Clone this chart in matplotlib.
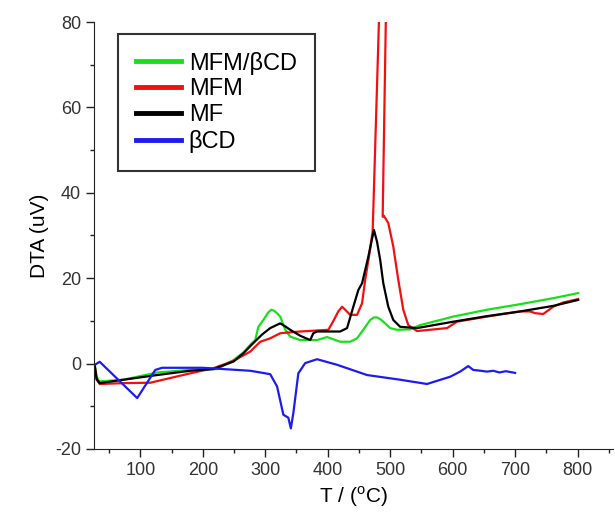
import numpy as np
import matplotlib
matplotlib.use("Agg")
import matplotlib.pyplot as plt
from matplotlib.ticker import MultipleLocator

plt.rcParams["font.family"] = ["Liberation Sans", "DejaVu Sans"]
plt.rcParams["mathtext.fontset"] = "custom"
plt.rcParams["mathtext.rm"] = "Liberation Sans"
plt.rcParams["axes.unicode_minus"] = False

# data (T in degC, DTA in uV)
green_T = [27, 30, 34, 73, 127, 180, 223, 249, 265, 276, 284, 289, 297, 305,
           310, 315, 320, 324, 332, 340, 356, 383, 399, 420, 436, 447, 457,
           468, 474, 479, 484, 489, 500, 511, 532, 548, 580, 601, 655, 708,
           761, 801]
green_y = [-0.3, -3.0, -4.2, -3.8, -2.1, -1.5, -1.3, 0.8, 2.6, 4.4, 5.5, 8.6,
           10.2, 12.0, 12.6, 12.3, 11.6, 11.0, 7.9, 6.3, 5.5, 5.5, 6.2, 5.1,
           5.1, 5.9, 7.9, 10.2, 10.8, 10.8, 10.4, 9.8, 8.3, 7.9, 8.0, 9.0,
           10.2, 11.0, 12.6, 13.9, 15.3, 16.5]

red_T = [27, 30, 35, 73, 116, 148, 180, 217, 249, 276, 292, 308, 324, 356,
         401, 407, 417, 423, 428, 436, 447, 455, 460, 466, 472, 482, 484, 488,
         494, 493, 488, 490, 497, 505, 513, 521, 529, 543, 591, 607, 655, 708,
         724, 732, 745, 761, 777, 801]
red_y = [-0.5, -3.8, -4.8, -4.6, -4.5, -3.4, -2.3, -1.1, 0.6, 2.8, 5.1, 5.9,
         7.1, 7.5, 7.9, 9.4, 12.2, 13.3, 12.6, 11.4, 11.4, 14.1, 19.6, 25.0,
         31.0, 80.0, 90.0, 120.0, 90.0, 80.0, 34.4, 34.6, 32.9, 27.4, 19.6,
         12.6, 9.0, 7.6, 8.3, 9.8, 11.0, 12.2, 12.2, 11.8, 11.6, 13.3, 14.3,
         15.1]

black_T = [27, 30, 35, 73, 127, 180, 217, 249, 265, 281, 295, 308, 318, 324,
           332, 340, 356, 372, 377, 383, 420, 431, 441, 449, 455, 465, 474,
           479, 484, 489, 497, 505, 516, 543, 601, 655, 708, 761, 801]
black_y = [-0.5, -3.6, -4.6, -3.8, -2.7, -1.7, -1.3, 0.45, 2.4, 4.8, 6.8, 8.3,
           9.0, 9.4, 8.7, 7.9, 6.5, 5.5, 7.1, 7.5, 7.5, 8.3, 13.3, 17.2, 18.8,
           25.0, 31.3, 28.5, 24.3, 18.8, 13.3, 10.2, 8.6, 8.3, 9.8, 11.1,
           12.2, 13.5, 14.9]

blue_T = [27, 35, 95, 124, 135, 200, 276, 308, 319, 329, 337, 341, 345, 353,
          364, 383, 415, 463, 516, 559, 596, 612, 625, 633, 645, 655, 665,
          675, 685, 700]
blue_y = [-0.3, 0.4, -8.1, -1.5, -1.0, -1.0, -1.7, -2.5, -5.4, -12.0, -12.7,
          -15.2, -11.6, -2.3, 0.1, 1.0, -0.3, -2.7, -3.8, -4.8, -3.1, -1.9,
          -0.6, -1.5, -1.7, -1.9, -1.7, -2.1, -1.8, -2.2]

series = [("MFM/\u03b2CD", green_T, green_y, "#18e018"),
          ("MFM", red_T, red_y, "#f01010"),
          ("MF", black_T, black_y, "#000000"),
          ("\u03b2CD", blue_T, blue_y, "#1c1cf0")]

fig = plt.figure(figsize=(6.15, 5.13), dpi=100)
ax = fig.add_axes([0.153, 0.125, 0.844, 0.832])

for name, t, y, c in series:
    ax.plot(t, y, color=c, lw=1.6, label=name, solid_joinstyle="round")

ax.set_xlim(26, 857)
ax.set_ylim(-20, 80)
ax.xaxis.set_major_locator(MultipleLocator(100))
ax.xaxis.set_minor_locator(MultipleLocator(50))
ax.yaxis.set_major_locator(MultipleLocator(20))
ax.yaxis.set_minor_locator(MultipleLocator(10))
ax.tick_params(which="major", length=6, width=1, labelsize=13,
               labelcolor="#333333", color="#222222")
ax.tick_params(which="minor", length=3, width=1, color="#222222")
for s in ["top", "right"]:
    ax.spines[s].set_visible(False)
for s in ["left", "bottom"]:
    ax.spines[s].set_color("#222222")

ax.set_xlabel(r"T / ($^{\mathregular{o}}$C)", fontsize=15)
ax.set_ylabel("DTA (uV)", fontsize=15)

leg = ax.legend(loc="upper left", bbox_to_anchor=(0.046, 0.972),
                borderaxespad=0, fontsize=17, frameon=True, fancybox=False,
                handlelength=1.9, handletextpad=0.35, labelspacing=0.16,
                borderpad=0.75)
leg.get_frame().set_edgecolor("black")
leg.get_frame().set_linewidth(1.5)
for line in leg.get_lines():
    line.set_linewidth(3.5)

fig.savefig("out.png", dpi=100)
